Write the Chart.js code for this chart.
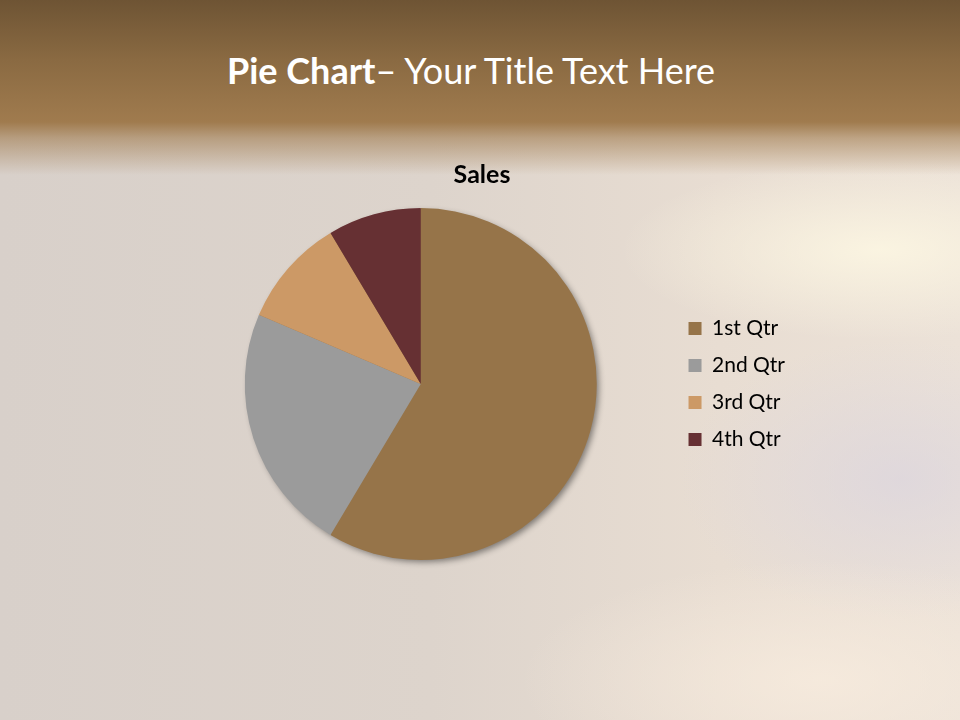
<!DOCTYPE html>
<html>
<head>
<meta charset="utf-8">
<script src="https://cdn.jsdelivr.net/npm/chart.js@4.4.1/dist/chart.umd.min.js"></script>
<style>
  html, body { margin: 0; padding: 0; }
  body {
    width: 960px; height: 720px; overflow: hidden; position: relative;
    font-family: Lato, "Open Sans", sans-serif;
    background:
      linear-gradient(180deg, #6e5434 0px, #8a6a42 60px, #a07b4e 122px, rgba(160,123,78,0.6) 138px, rgba(225,212,198,0) 175px),
      radial-gradient(ellipse 260px 90px at 880px 250px, rgba(252,246,226,0.9), rgba(252,246,226,0)),
      radial-gradient(ellipse 300px 120px at 820px 680px, rgba(248,236,222,0.8), rgba(248,236,222,0)),
      radial-gradient(ellipse 220px 140px at 900px 480px, rgba(218,212,222,0.7), rgba(218,212,222,0)),
      linear-gradient(90deg, #d8d0ca 0%, #ddd4cc 45%, #e8ddd2 75%, #ece2d8 100%);
  }
  #title {
    position: absolute; left: 0; top: 46px; width: 942px; text-align: center;
    color: #fff; font-size: 36px; line-height: 48px;
  }
  #title b { font-weight: 700; }
  #wrap { position: absolute; left: 169px; top: 150px; width: 626px; height: 430px; }
</style>
</head>
<body>
<div id="title"><b>Pie Chart</b>– Your Title Text Here</div>
<div id="wrap"><canvas id="pie"></canvas></div>
<script>
// Sales by quarter
const quarters = ['1st Qtr', '2nd Qtr', '3rd Qtr', '4th Qtr'];
const sales = [8.2, 3.2, 1.4, 1.2];
const sliceColors = ['#967449', '#9b9b9b', '#cc9966', '#663033'];

// soft drop shadow under the whole pie
const pieShadow = {
    id: 'pieShadow',
    beforeDatasetsDraw(chart) {
        const arc = chart.getDatasetMeta(0).data[0];
        if (!arc) return;
        const ctx = chart.ctx;
        ctx.save();
        ctx.shadowColor = 'rgba(0,0,0,0.45)';
        ctx.shadowBlur = 6;
        ctx.shadowOffsetX = 3;
        ctx.shadowOffsetY = 3;
        ctx.fillStyle = '#967449';
        ctx.beginPath();
        ctx.arc(arc.x, arc.y, arc.outerRadius - 1, 0, Math.PI * 2);
        ctx.fill();
        ctx.restore();
    }
};

new Chart(document.getElementById('pie'), {
    type: 'pie',
    data: {
        labels: quarters,
        datasets: [{
            data: sales,
            backgroundColor: sliceColors,
            borderWidth: 0,
        }],
    },
    options: {
        responsive: true,
        maintainAspectRatio: false,
        animation: false,
        layout: { padding: { bottom: 20 } },
        plugins: {
            title: {
                display: true,
                text: 'Sales',
                color: '#000',
                font: { family: 'Lato', size: 25, weight: 'bold' },
                padding: { top: 10, bottom: 18 },
            },
            legend: {
                position: 'right',
                // empty title only pushes the items down to the pie's middle
                title: { display: true, text: '', font: { size: 10 }, padding: { top: 23, bottom: 23 } },
                labels: {
                    color: '#000',
                    font: { family: 'Lato', size: 21 },
                    boxWidth: 13,
                    boxHeight: 13,
                    padding: 16,
                },
            },
            tooltip: { enabled: false },
        },
    },
    plugins: [pieShadow],
});
</script>
</body>
</html>
